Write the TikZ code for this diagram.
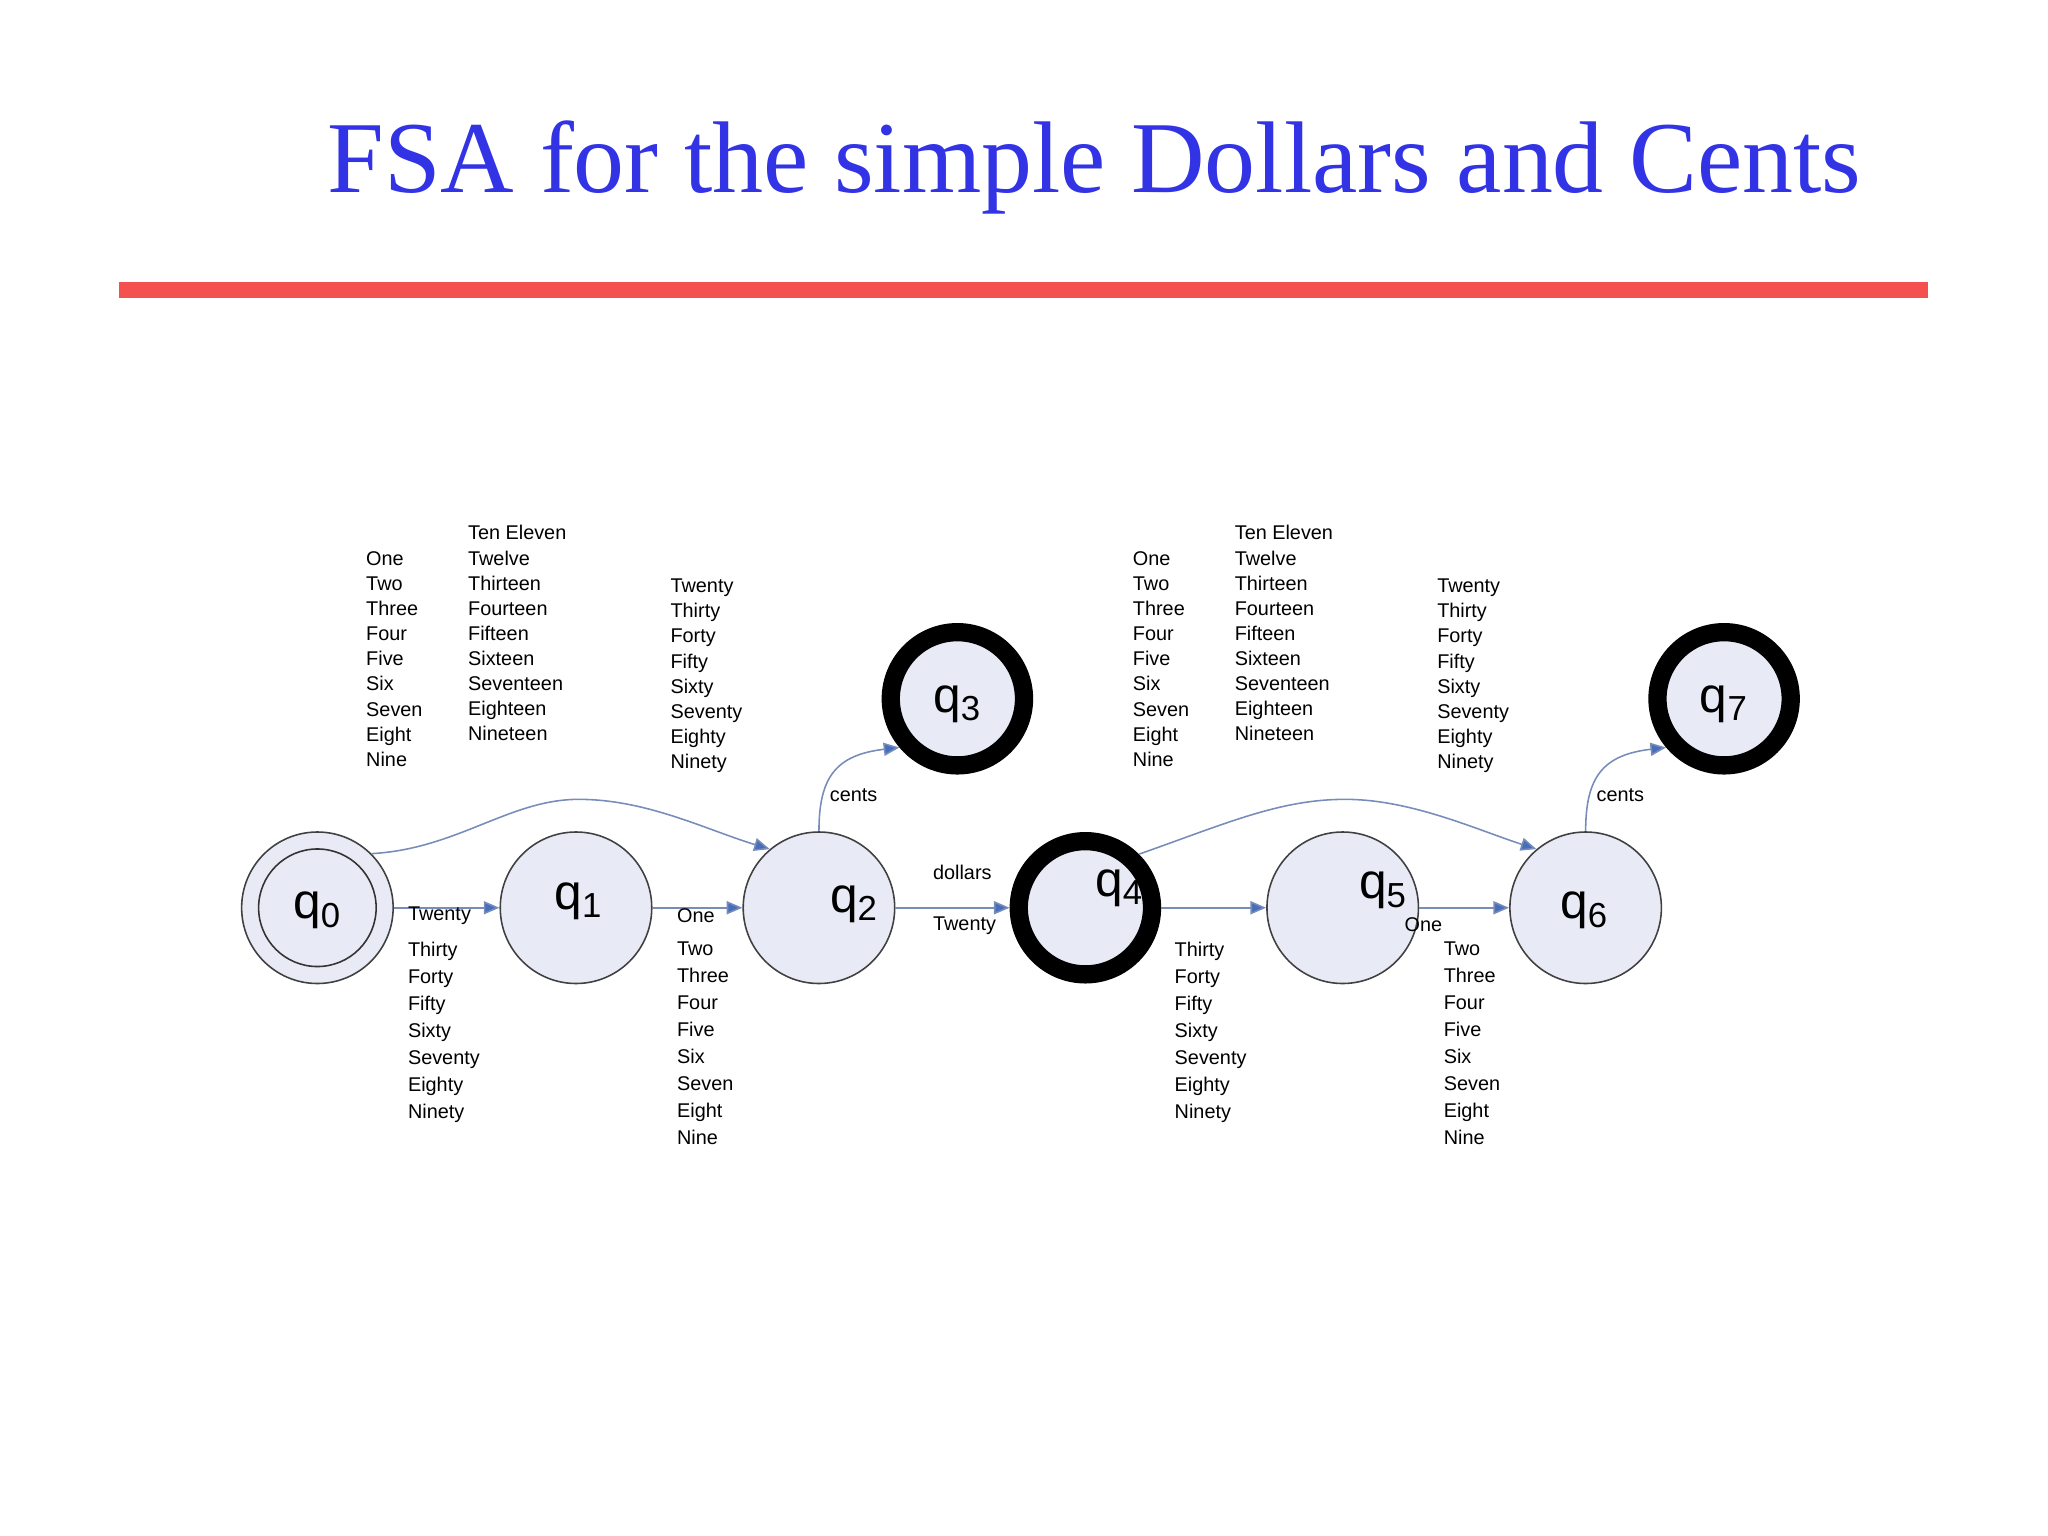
\documentclass[tikz,border=0pt]{standalone}
\usepackage{fontspec}
\setmainfont{Liberation Serif}
\setsansfont{Liberation Sans}
\usetikzlibrary{arrows.meta}
\definecolor{titleblue}{RGB}{51,51,230}
\definecolor{redline}{RGB}{245,80,80}
\definecolor{stfill}{RGB}{232,234,245}
\definecolor{edgec}{RGB}{120,140,185}
\definecolor{tipc}{RGB}{70,110,185}
\tikzset{
 st/.style={circle,draw=black!75,line width=0.6pt,fill=stfill,minimum size=58pt,inner sep=0pt},
 fin/.style={circle,draw=black,line width=7pt,fill=stfill,minimum size=51pt,inner sep=0pt},
 lab/.style={font=\sffamily\fontsize{19}{19}\selectfont},
 edge/.style={draw=edgec,line width=0.6pt,-{Triangle[length=6pt,width=5pt,fill=tipc]}},
 lst/.style={anchor=north west,align=left,inner sep=0pt,font=\sffamily\fontsize{7.6}{9.6}\selectfont},
 lstb/.style={anchor=north west,align=left,inner sep=0pt,font=\sffamily\fontsize{7.6}{10.3}\selectfont},
 el/.style={anchor=west,inner sep=0pt,font=\sffamily\fontsize{7.6}{9.6}\selectfont}
}
\begin{document}
\begin{tikzpicture}[x=0.5pt,y=-0.5pt]
\useasboundingbox (0,0) rectangle (1568,1176);
\node (title) at (838,128) {\fontsize{39}{39}\selectfont\color{titleblue}FSA for the simple Dollars and Cents};
\draw[redline,line width=6pt] (91,222) coordinate (ra) -- (1476,222) coordinate (rb);
% states
\node[st] (q0) at (243,695) {};
\node[circle,draw=black!80,line width=0.6pt,minimum size=45pt] (q0i) at (243,695) {};
\node[lab] at (243,697) {q\textsubscript{0}};
\node[st] (q1) at (441,695) {};
\node[lab] at (443,690) {q\textsubscript{1}};
\node[st] (q2) at (627,695) {};
\node[lab] at (654,692) {q\textsubscript{2}};
\node[fin] (q3) at (733,535) {};
\node[lab] at (733,539) {q\textsubscript{3}};
\node[fin] (q4) at (831,695) {};
\node[lab] at (857,680) {q\textsubscript{4}};
\node[st] (q5) at (1028,695) {};
\node[lab] at (1059,682) {q\textsubscript{5}};
\node[st] (q6) at (1214,695) {};
\node[lab] at (1213,697) {q\textsubscript{6}};
\node[fin] (q7) at (1320,535) {};
\node[lab] at (1320,539) {q\textsubscript{7}};
% edges
\draw[edge] (q0) -- (q1);
\draw[edge] (q1) -- (q2);
\draw[edge] (q2) -- (q4);
\draw[edge] (q4) -- (q5);
\draw[edge] (q5) -- (q6);
\draw[edge] (q0.45) .. controls (350,650) and (390,612) .. (443,612) .. controls (495,612) and (540,635) .. (q2.130);
\draw[edge] (q4.45) .. controls (940,630) and (980,612) .. (1030,612) .. controls (1080,612) and (1130,635) .. (q6.130);
\draw[edge] (q2.north) .. controls (627,595) and (640,578) .. (q3.220);
\draw[edge] (q6.north) .. controls (1214,595) and (1227,578) .. (q7.220);
% edge labels
\node[el] at (312,701) {Twenty};
\node[el] at (518,701) {One};
\node[el] at (714,668) {dollars};
\node[el] at (714,709) {Twenty};
\node[el] at (1075,708) {One};
\node[el] at (635,609) {cents};
\node[el] at (1222,609) {cents};
% lists
\node[lst] at (280,422) {One\\Two\\Three\\Four\\Five\\Six\\Seven\\Eight\\Nine};
\node[lst] at (358,402) {Ten Eleven\\Twelve\\Thirteen\\Fourteen\\Fifteen\\Sixteen\\Seventeen\\Eighteen\\Nineteen};
\node[lst] at (513,443) {Twenty\\Thirty\\Forty\\Fifty\\Sixty\\Seventy\\Eighty\\Ninety};
\node[lst] at (867,422) {One\\Two\\Three\\Four\\Five\\Six\\Seven\\Eight\\Nine};
\node[lst] at (945,402) {Ten Eleven\\Twelve\\Thirteen\\Fourteen\\Fifteen\\Sixteen\\Seventeen\\Eighteen\\Nineteen};
\node[lst] at (1100,443) {Twenty\\Thirty\\Forty\\Fifty\\Sixty\\Seventy\\Eighty\\Ninety};
\node[lstb] at (312,721) {Thirty\\Forty\\Fifty\\Sixty\\Seventy\\Eighty\\Ninety};
\node[lstb] at (518,721) {Two\\Three\\Four\\Five\\Six\\Seven\\Eight\\Nine};
\node[lstb] at (899,721) {Thirty\\Forty\\Fifty\\Sixty\\Seventy\\Eighty\\Ninety};
\node[lstb] at (1105,721) {Two\\Three\\Four\\Five\\Six\\Seven\\Eight\\Nine};
\end{tikzpicture}
\end{document}
